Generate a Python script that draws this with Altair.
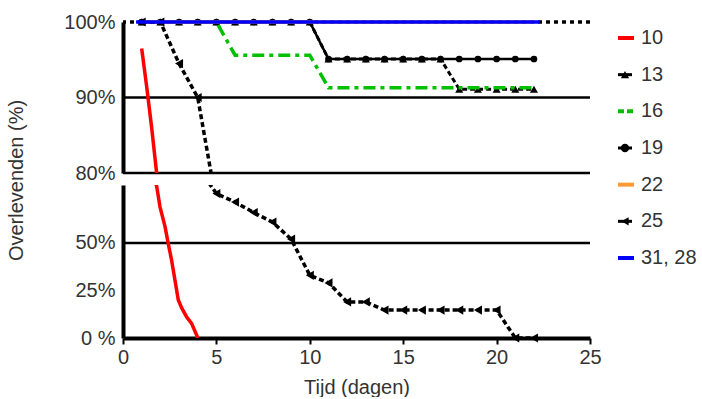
import altair as alt
import pandas as pd

FONT = "Liberation Sans"
TXT = "#333333"

# ---------------- data ----------------
x_ticks = [0, 5, 10, 15, 20, 25]
upper_ticks = [80, 90, 100]
lower_ticks = [0, 25, 50]

days_10 = [1.0, 1.27, 1.53, 1.8, 1.98, 2.25, 2.42, 2.6, 2.78, 2.96, 3.14, 3.4, 3.67, 3.94, 4.0]
surv_10 = [96.5, 91.4, 86.1, 80.0, 69.0, 58.6, 49.8, 41.0, 30.5, 20.0, 15.8, 11.2, 7.7, 1.6, 0.0]

days_13 = [1, 2, 3, 4, 5, 6, 7, 8, 9, 10, 11, 12, 13, 14, 15, 16, 17, 18, 19, 20, 21, 22]
surv_13 = [100, 100, 100, 100, 100, 100, 100, 100, 100, 100,
           95.1, 95.1, 95.1, 95.1, 95.1, 95.1, 95.1, 91.1, 91.1, 91.1, 91.1, 91.1]

days_16 = [1, 5, 6, 10, 11, 22]
surv_16 = [100, 100, 95.6, 95.6, 91.3, 91.3]

days_19 = [1, 2, 3, 4, 5, 6, 7, 8, 9, 10, 11, 12, 13, 14, 15, 16, 17, 18, 19, 20, 21, 22]
surv_19 = [100, 100, 100, 100, 100, 100, 100, 100, 100, 100,
           95.1, 95.1, 95.1, 95.1, 95.1, 95.1, 95.1, 95.1, 95.1, 95.1, 95.1, 95.1]

days_22 = [1, 22]
surv_22 = [100, 100]

days_25 = [1, 2, 3, 4, 5, 6, 7, 8, 9, 10, 11, 12, 13, 14, 15, 16, 17, 18, 19, 20, 21, 22]
surv_25 = [100, 100, 94.5, 90, 76, 71.5, 66, 61, 52, 33, 29, 19, 19, 14.7,
           14.7, 14.7, 14.7, 14.7, 14.7, 14.7, 0, 0]

days_31 = [0.7, 22.3]
surv_31 = [100, 100]

grid_upper = [90, 80]
grid_lower = [50]
grid_top = [100]

leg_names = ["10", "13", "16", "19", "22", "25", "31, 28"]
leg_colors = ["#ff0000", "#000000", "#00c000", "#000000", "#ff9933", "#000000", "#0000ff"]
leg_shapes = ["", "triangle-up", "", "circle", "", "triangle-left", ""]


def sdf(days, surv):
    return pd.DataFrame({"day": days, "value": surv})


def panel(ymin, ymax, height, ticks, grids, show_x, ytitle, is_upper):
    xs = alt.Scale(domain=[0, 25], nice=False, zero=False)
    ys = alt.Scale(domain=[ymin, ymax], nice=False, zero=False)
    if show_x:
        xaxis = alt.Axis(values=x_ticks, title="Tijd (dagen)", grid=False,
                         domainColor="black", domainWidth=4, tickColor="black",
                         tickWidth=2, tickSize=6, labelFontSize=20, labelFont=FONT,
                         labelColor=TXT, labelPadding=3, titleFont=FONT,
                         titleFontSize=20, titleFontWeight="normal", titleColor=TXT,
                         titlePadding=10, labelFlush=False)
    else:
        xaxis = None
    yaxis_kw = dict(values=ticks, grid=False, domainColor="black", domainWidth=4,
                    tickSize=0, labelFontSize=20, labelFont=FONT, labelColor=TXT,
                    labelPadding=8, labelBound=False, labelFlush=False,
                    labelOverlap=False,
                    labelExpr="datum.value == 0 ? '0 %' : datum.value + '%'")
    if ytitle:
        yaxis = alt.Axis(title=ytitle, titleFont=FONT, titleFontSize=20,
                         titleFontWeight="normal", titleColor=TXT,
                         titleY=-5, titleX=-97, titleAlign="center",
                         titleBaseline="bottom", titleAngle=270, **yaxis_kw)
    else:
        yaxis = alt.Axis(title=None, **yaxis_kw)
    X = alt.X("day:Q", scale=xs, axis=xaxis)
    Y = alt.Y("value:Q", scale=ys, axis=yaxis)
    in_range = (alt.datum.value >= ymin) & (alt.datum.value <= ymax)

    layers = []
    # gridlines
    layers.append(alt.Chart(pd.DataFrame({"value": grids})).mark_rule(
        color="black", strokeWidth=2.5).encode(y=Y))
    if is_upper:
        layers.append(alt.Chart(pd.DataFrame({"value": grid_top})).mark_rule(
            color="black", strokeWidth=3.5, strokeDash=[4, 4]).encode(y=Y))

    def line(days, surv, color, width, dash=None, clip=True):
        kw = dict(color=color, strokeWidth=width, clip=clip)
        if dash:
            kw["strokeDash"] = dash
        return alt.Chart(sdf(days, surv)).mark_line(**kw).encode(x=X, y=Y)

    def pts(days, surv, shape, size):
        return alt.Chart(sdf(days, surv)).transform_filter(in_range).mark_point(
            shape=shape, filled=True, color="black", size=size, opacity=1,
            clip=False).encode(x=X, y=Y)

    layers.append(line(days_10, surv_10, "#ff0000", 3.5))
    if is_upper:
        layers.append(line(days_13, surv_13, "#000000", 3, [5, 3], clip=False))
    layers.append(pts(days_13, surv_13, "triangle-up", 65))
    if is_upper:
        layers.append(line(days_16, surv_16, "#00c000", 3.5, [12, 5, 4, 5], clip=False))
        layers.append(line(days_19, surv_19, "#000000", 2.5, clip=False))
    layers.append(pts(days_19, surv_19, "circle", 45))
    if is_upper:
        layers.append(line(days_22, surv_22, "#ff9933", 3.5, clip=False))
    layers.append(line(days_25, surv_25, "#000000", 3.5, [5, 3]))
    layers.append(pts(days_25, surv_25, "triangle-left", 85))
    if is_upper:
        layers.append(line(days_31, surv_31, "#0000ff", 3.5, clip=False))

    return alt.layer(*layers).properties(width=467, height=height)


upper = panel(80, 100, 151, upper_ticks, grid_upper, False, None, True)
lower = panel(0, 80.5, 153, lower_ticks, grid_lower, True, "Overlevenden (%)", False)

# ---------------- legend panel ----------------
leg = pd.DataFrame({"name": leg_names, "idx": list(range(len(leg_names))),
                    "color": leg_colors, "shape": leg_shapes})
LY = alt.Y("idx:Q", scale=alt.Scale(domain=[0, 6], range=[16, 236]), axis=None)
base = alt.Chart(leg)
leg_solid = base.transform_filter(
    alt.FieldOneOfPredicate(field="name", oneOf=["10", "22", "31, 28"])
).mark_rule(strokeWidth=4).encode(
    x=alt.value(16), x2=alt.value(32), y=LY, color=alt.Color("color:N", scale=None))
leg_dash = base.transform_filter(alt.datum.name == "16").mark_rule(
    strokeWidth=4, strokeDash=[6, 3], color="#00c000").encode(
    x=alt.value(16), x2=alt.value(32), y=LY)
leg_blk = base.transform_filter(
    alt.FieldOneOfPredicate(field="name", oneOf=["13", "19", "25"])
).mark_rule(strokeWidth=3, color="black").encode(
    x=alt.value(16), x2=alt.value(30), y=LY)
leg_pts = base.transform_filter(
    alt.FieldOneOfPredicate(field="name", oneOf=["13", "19", "25"])
).mark_point(filled=True, color="black", size=70, opacity=1).encode(
    x=alt.value(23), y=LY, shape=alt.Shape("shape:N", scale=None))
leg_txt = base.mark_text(align="left", baseline="middle", fontSize=20,
                         font=FONT, color=TXT).encode(
    x=alt.value(39), y=LY, text="name:N")
legend = alt.layer(leg_solid, leg_dash, leg_blk, leg_pts, leg_txt).properties(
    width=80, height=316)

chart = alt.hconcat(
    alt.vconcat(upper, lower, spacing=12, bounds="flush"), legend,
    spacing=0
).configure_view(stroke=None).properties(
    padding={"left": 5, "top": 12, "right": 0, "bottom": 0}
)

chart.save("out.html", embed_options={"renderer": "svg", "actions": False})
